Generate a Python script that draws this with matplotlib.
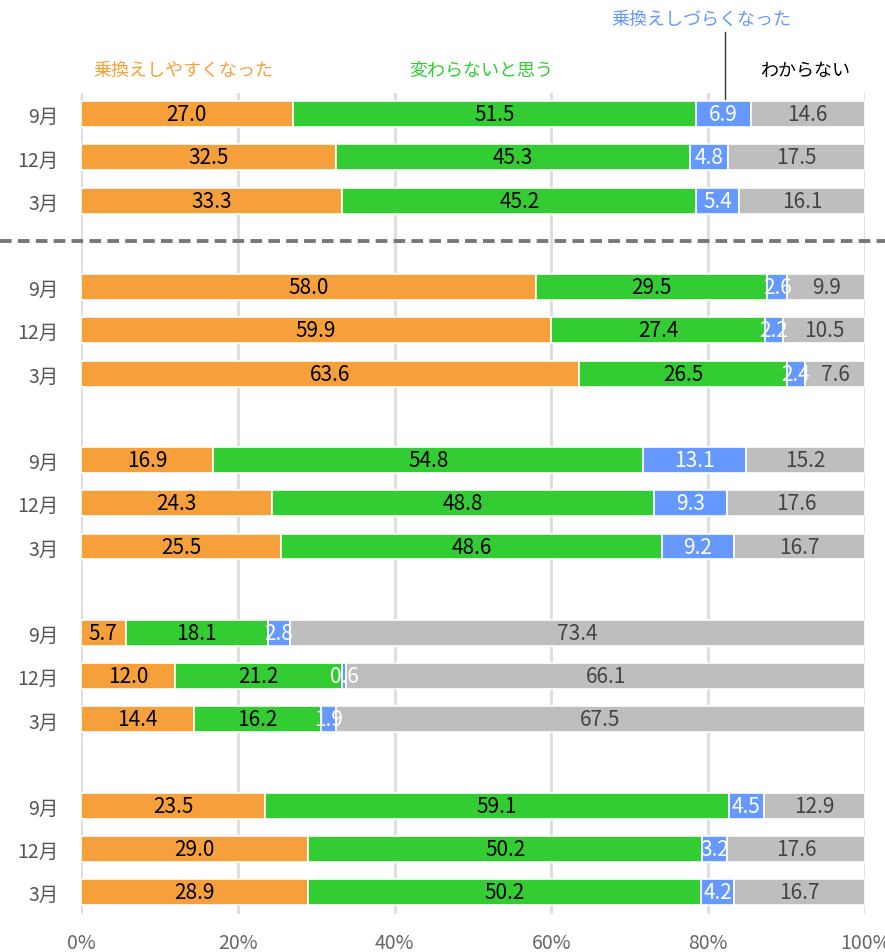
import matplotlib
matplotlib.use("Agg")
import matplotlib.pyplot as plt
import numpy as np
from matplotlib import font_manager

names = {f.name for f in font_manager.fontManager.ttflist}
num_font = ['Liberation Sans Narrow', 'Noto Sans CJK JP'] if 'Liberation Sans Narrow' in names else ['Noto Sans CJK JP']
plt.rcParams['font.family'] = ['Noto Sans CJK JP', 'DejaVu Sans']

categories = ["乗換えしやすくなった", "変わらないと思う", "乗換えしづらくなった", "わからない"]
months = ["9月", "12月", "3月"]
group1 = [[27.0, 51.5, 6.9, 14.6], [32.5, 45.3, 4.8, 17.5], [33.3, 45.2, 5.4, 16.1]]
group2 = [[58.0, 29.5, 2.6, 9.9], [59.9, 27.4, 2.2, 10.5], [63.6, 26.5, 2.4, 7.6]]
group3 = [[16.9, 54.8, 13.1, 15.2], [24.3, 48.8, 9.3, 17.6], [25.5, 48.6, 9.2, 16.7]]
group4 = [[5.7, 18.1, 2.8, 73.4], [12.0, 21.2, 0.6, 66.1], [14.4, 16.2, 1.9, 67.5]]
group5 = [[23.5, 59.1, 4.5, 12.9], [29.0, 50.2, 3.2, 17.6], [28.9, 50.2, 4.2, 16.7]]
xticks = [0, 20, 40, 60, 80, 100]

colors = ["#F6A03C", "#33CC33", "#6699FF", "#BEBEBE"]
text_colors = ["black", "black", "white", "#444444"]

fig = plt.figure(figsize=(8.85, 9.53), dpi=100)
W, H = 885, 953
ax = fig.add_axes([81 / W, (953 - 915) / H, 784 / W, (915 - 94) / H])

groups = [group1, group2, group3, group4, group5]
ypos, ylabels = [], []
for gi, g in enumerate(groups):
    for ri, row in enumerate(g):
        y = gi * 4 + ri
        ypos.append(y)
        ylabels.append(months[ri])
        vals = np.array(row, dtype=float)
        widths = vals / vals.sum() * 100
        left = 0.0
        for ci, (v, w) in enumerate(zip(vals, widths)):
            ax.barh(y, w, left=left, height=0.6, color=colors[ci],
                    edgecolor="white", linewidth=1.2, zorder=3)
            ax.text(left + w / 2, y, f"{v:.1f}", ha="center", va="center",
                    color=text_colors[ci], fontsize=15, family=num_font, zorder=4)
            left += w

ax.set_xlim(0, 100)
ax.set_ylim(18.5, -0.49)
ax.set_yticks(ypos)
ax.set_yticklabels(ylabels, fontsize=14, color="#555555")
ax.set_xticks(xticks)
ax.set_xticklabels([f"{t}%" for t in xticks], fontsize=14, color="#666666", family=num_font)
ax.tick_params(length=0)
ax.tick_params(axis='y', pad=16)
ax.tick_params(axis='x', pad=13)
for s in ax.spines.values():
    s.set_visible(False)
ax.grid(axis="x", color="#DDDDDD", linewidth=2, zorder=0)
ax.set_axisbelow(True)

# dashed separator across figure
ysep = 1 - 242 / H
fig.add_artist(plt.Line2D([0, 1], [ysep, ysep], color="#777777", linewidth=2.8,
                          linestyle=(0, (3, 1.6))))

# category labels
fig.text(183 / W, 1 - 71 / H, categories[0], color="#F6A03C", fontsize=13, ha="center", va="center")
fig.text(481 / W, 1 - 71 / H, categories[1], color="#33CC33", fontsize=13, ha="center", va="center")
fig.text(805 / W, 1 - 71 / H, categories[3], color="black", fontsize=13, ha="center", va="center")
fig.text(701 / W, 1 - 20 / H, categories[2], color="#6699FF", fontsize=13, ha="center", va="center")
fig.add_artist(plt.Line2D([725 / W, 725 / W], [1 - 33 / H, 1 - 100 / H], color="#333333", linewidth=1))

fig.savefig("out.png", dpi=100)
